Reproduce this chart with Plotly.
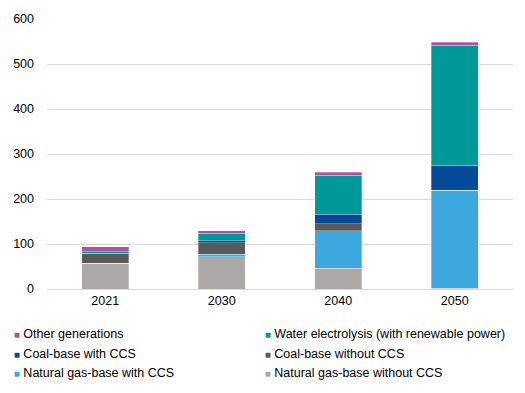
import plotly.graph_objects as go

years = ["2021", "2030", "2040", "2050"]
ng_without_ccs = [57, 72, 46, 2]
ng_with_ccs = [0, 5, 84, 217]
coal_without_ccs = [21, 26, 15, 0]
coal_with_ccs = [1, 4, 21.5, 55.5]
water_electrolysis = [4, 17, 86, 267]
other_generations = [11, 6, 7.5, 6.5]

# (name, values, colour, legend column)
series = [
    ("Natural gas-base without CCS", ng_without_ccs, "#ABA8A8", "legend2"),
    ("Natural gas-base with CCS", ng_with_ccs, "#3BA9DD", "legend"),
    ("Coal-base without CCS", coal_without_ccs, "#595959", "legend2"),
    ("Coal-base with CCS", coal_with_ccs, "#034A98", "legend"),
    ("Water electrolysis (with renewable power)", water_electrolysis, "#00999A", "legend2"),
    ("Other generations", other_generations, "#B0509E", "legend"),
]

fig = go.Figure()
for name, vals, color, lg in series:
    fig.add_trace(go.Bar(
        x=years, y=vals, name=name, showlegend=False,
        marker=dict(color=color, line=dict(color="rgba(255,255,255,0.6)", width=0.5)),
    ))
# legend entries: small coloured square swatch placed right before the label
for name, vals, color, lg in series:
    fig.add_trace(go.Scatter(
        x=[None], y=[None], mode="markers", legend=lg,
        name=f'<span style="color:{color};font-size:10px">■</span> {name}',
        marker=dict(symbol="square", size=0, color="rgba(0,0,0,0)",
                    line=dict(width=0, color="rgba(0,0,0,0)")),
        showlegend=True, hoverinfo="skip",
    ))

legend_common = dict(
    orientation="v",
    traceorder="reversed",
    xanchor="left", yanchor="top",
    bgcolor="rgba(0,0,0,0)",
    font=dict(size=12.5, color="#000000"),
    tracegroupgap=0,
)

# page body adds an 8px offset, so the figure is sized to the visible area
fig.update_layout(
    barmode="stack",
    bargap=0.6,
    width=517, height=385,
    margin=dict(l=39, r=12, t=11, b=104, autoexpand=False),
    paper_bgcolor="white",
    plot_bgcolor="white",
    font=dict(family="Liberation Sans, Arial, sans-serif", size=12.5, color="#000000"),
    showlegend=True,
    legend=dict(x=-0.157, y=-0.111, **legend_common),
    legend2=dict(x=0.3815, y=-0.111, **legend_common),
    yaxis=dict(
        range=[0, 600],
        tickvals=[0, 100, 200, 300, 400, 500, 600],
        showgrid=True, gridcolor="#D9D9D9", gridwidth=1,
        zeroline=False,
        showline=False,
        ticks="",
        ticklabelstandoff=12,
        tickfont=dict(size=12.5),
    ),
    xaxis=dict(
        showline=True, linecolor="#D9D9D9", linewidth=1,
        ticks="",
        tickfont=dict(size=12.5),
    ),
)

fig.write_html("out.html")
